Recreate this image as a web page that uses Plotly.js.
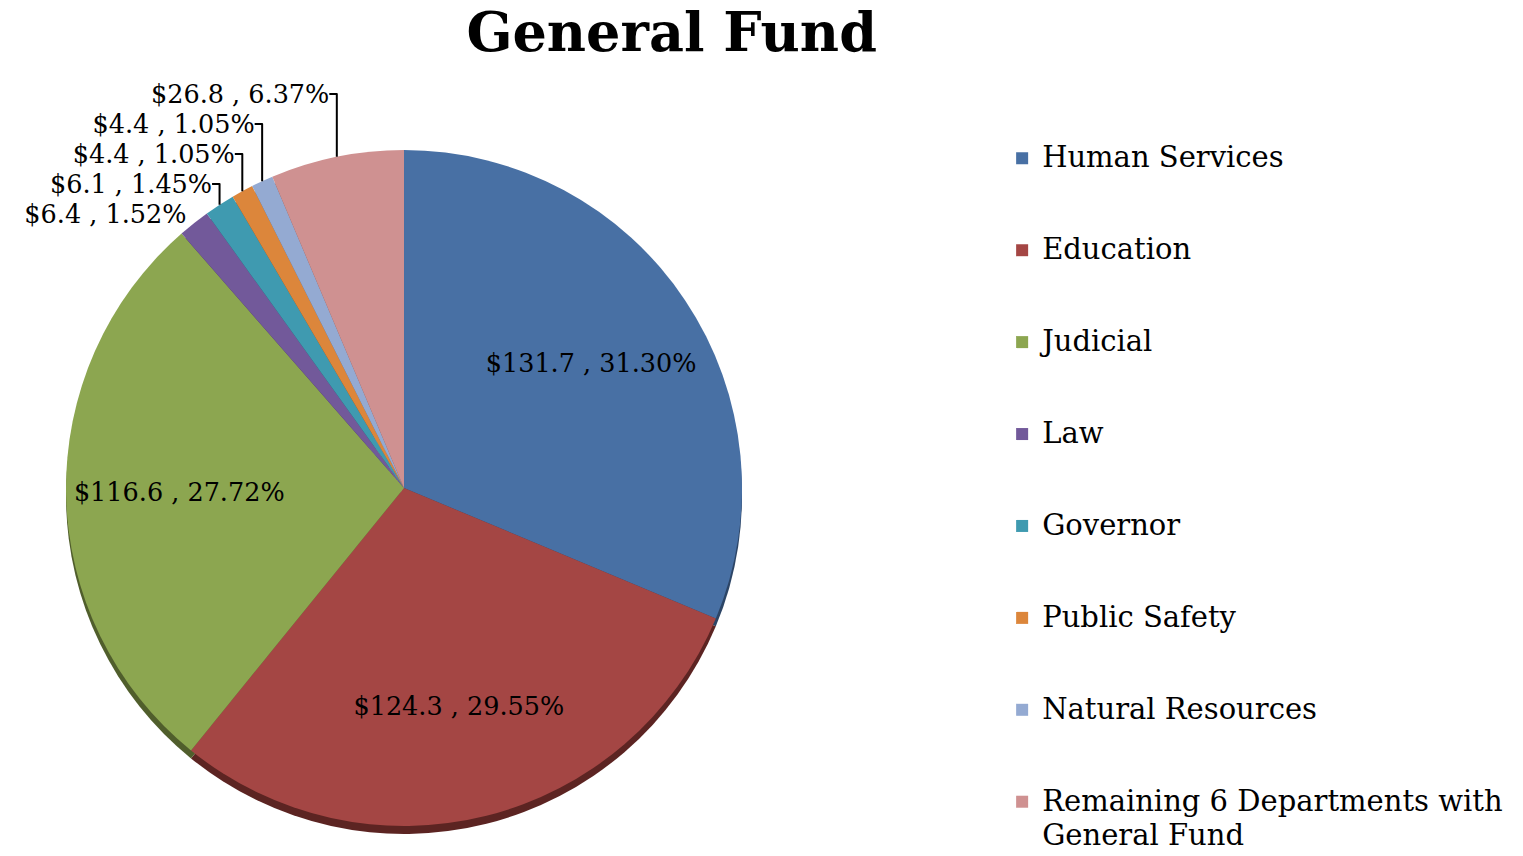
<!DOCTYPE html>
<html>
<head>
<meta charset="utf-8">
<script src="https://cdn.plot.ly/plotly-3.0.1.min.js"></script>
<style>html,body{margin:0;padding:0;background:#fff;}#chart{width:1523px;height:856px;}</style>
</head>
<body>
<div id="chart"></div>
<script>
const categories = ["Human Services", "Education", "Judicial", "Law", "Governor", "Public Safety", "Natural Resources", "Remaining 6 Departments with<br>General Fund"];
const values = [131.7, 124.3, 116.6, 6.4, 6.1, 4.4, 4.4, 26.8];
const colors = ["#4870A4", "#A44644", "#8CA650", "#72599A", "#3F9AB0", "#DC863B", "#94AAD2", "#CF9191"];
const shadowColors = ["#2C4566", "#5C2422", "#505E2C", "#3F3158", "#245866", "#7D4A20", "#56627A", "#7A5454"];
const textPositions = ["inside", "inside", "inside", "outside", "outside", "outside", "outside", "outside"];

const FONT = "DejaVu Serif, Liberation Serif, serif";
const LABEL_SIZE = 25.5;
const legendBase = 22.8;
const legendSpan = s => '<span style="font-size:29px">' + s + '</span>';
const legendLabels = categories.map(c => {
  const parts = c.split('<br>');
  if (parts.length > 1) return legendSpan(parts[0]) + '<br><sub>' + legendSpan(parts[1]) + '</sub>';
  return legendSpan(c) + '<br> <br> ';
});

const dom = {x: [0.04334, 0.4872], y: [0.03505, 0.8248]};
const shift = 0.0093;

const shadow = {
  type: 'pie', labels: legendLabels, values: values, sort: false, direction: 'clockwise', rotation: 0,
  marker: {colors: shadowColors, line: {width: 0}}, textinfo: 'none', showlegend: false, hoverinfo: 'skip',
  domain: {x: dom.x, y: [dom.y[0] - shift, dom.y[1] - shift]}, automargin: false
};

const main = {
  type: 'pie', labels: legendLabels, values: values, sort: false, direction: 'clockwise', rotation: 0,
  marker: {colors: colors, line: {width: 0}}, textinfo: 'none', showlegend: true,
  domain: dom, automargin: false, hoverinfo: 'label+value+percent'
};

const labelsTrace = {
  type: 'pie', labels: legendLabels, values: values, sort: false, direction: 'clockwise', rotation: 0,
  hole: 0.33,
  marker: {colors: colors.map(() => 'rgba(0,0,0,0)'), line: {width: 0}},
  texttemplate: '$%{value:.1f} , %{percent:.2%}',
  textposition: textPositions,
  insidetextorientation: 'horizontal',
  textfont: {family: FONT, size: LABEL_SIZE, color: '#000'},
  outsidetextfont: {family: FONT, size: LABEL_SIZE, color: '#000'},
  insidetextfont: {family: FONT, size: LABEL_SIZE, color: '#000'},
  showlegend: false, hoverinfo: 'skip',
  domain: dom, automargin: false
};

const layout = {
  width: 1523, height: 856,
  margin: {l: 0, r: 0, t: 0, b: 0},
  paper_bgcolor: '#fff',
  title: {text: '<b>General Fund</b>', font: {family: FONT, size: 54, color: '#000'}, x: 0.441, xanchor: 'center', y: 0.962, yanchor: 'middle'},
  showlegend: true,
  legend: {x: 0.658, xanchor: 'left', y: 0.84, yanchor: 'top', valign: 'top', font: {family: FONT, size: legendBase, color: '#000'}, bgcolor: 'rgba(0,0,0,0)'}
};

Plotly.newPlot('chart', [shadow, main, labelsTrace], layout, {staticPlot: true});
</script>
</body>
</html>
